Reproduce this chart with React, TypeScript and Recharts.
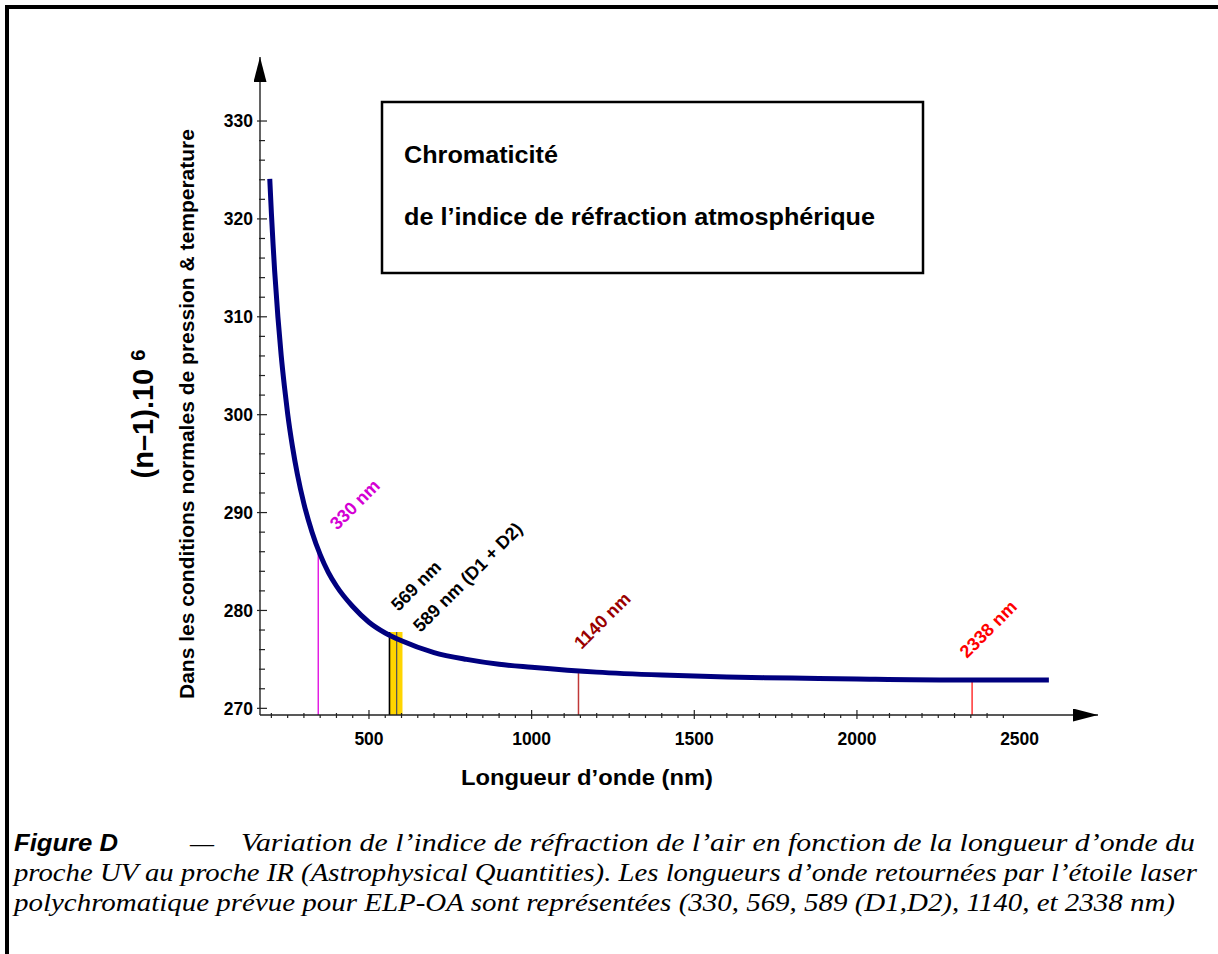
import React from "react";
import { ComposedChart, Line, XAxis, YAxis, ReferenceLine, ReferenceArea } from "recharts";

// (n-1).10^6 of air, per wavelength in nm
const wavelengthNm = [195, 200, 205, 210, 220, 230, 240, 250, 265, 280, 300, 325, 350, 375, 400, 450, 500, 550, 600, 700, 800, 900, 1000, 1200, 1400, 1600, 1800, 2000, 2300, 2590];
const refractivity = [324.1, 320.6, 317.5, 314.7, 310.0, 306.1, 302.9, 300.1, 296.7, 293.9, 290.9, 288.0, 285.7, 283.9, 282.5, 280.4, 278.8, 277.7, 276.9, 275.7, 275.0, 274.5, 274.2, 273.7, 273.4, 273.2, 273.1, 273.0, 272.9, 272.9];

// laser star wavelengths (drawn position in nm) and where each line stops
const markerNames = ["330 nm", "569 nm", "589 nm (D1 + D2)", "1140 nm", "2338 nm"];
const markerNm = [344, 563, 585, 1144, 2354];
const markerTop = [286.0, 277.8, 277.8, 273.6, 273.0];

// yellow sodium band
const bandNm = [563, 603];
const bandTop = 277.8;

const xMinorTicks = [200, 250, 300, 350, 400, 450, 500, 550, 600, 650, 700, 750, 800, 850, 900, 950, 1000, 1050, 1100, 1150, 1200, 1250, 1300, 1350, 1400, 1450, 1500, 1550, 1600, 1650, 1700, 1750, 1800, 1850, 1900, 1950, 2000, 2050, 2100, 2150, 2200, 2250, 2300, 2350, 2400, 2450];
const xLabelTicks = [500, 1000, 1500, 2000, 2500];
const yTicks = [270, 272, 274, 276, 278, 280, 282, 284, 286, 288, 290, 292, 294, 296, 298, 300, 302, 304, 306, 308, 310, 312, 314, 316, 318, 320, 322, 324, 326, 328, 330];
const yLabelTicks = [270, 280, 290, 300, 310, 320, 330];

const X_DOMAIN: [number, number] = [165, 2741];
const Y_DOMAIN: [number, number] = [269.32, 336.54];

const SANS = "'Liberation Sans', Arial, Helvetica, sans-serif";
const SERIF = "'Liberation Serif', 'Times New Roman', serif";

const markerStyle = [
  { stroke: "#E000E0", text: "#D400D4", width: 1.3, dx: 19, dy: -21 },
  { stroke: "#000000", text: "#000000", width: 1.6, dx: 9, dy: -20 },
  { stroke: "#555555", text: "#000000", width: 1.3, dx: 24, dy: 1 },
  { stroke: "#C03838", text: "#9A0000", width: 1.5, dx: 3, dy: -23 },
  { stroke: "#FF3333", text: "#FF0000", width: 1.5, dx: -5, dy: -20 },
];

const curveData = wavelengthNm.map((nm, i) => ({ nm, value: refractivity[i] }));
const xTicks = [...xMinorTicks, 2500];

function XTick(props: any) {
  const { x, y, payload } = props;
  const v = payload.value;
  const major = xLabelTicks.includes(v);
  let y1 = y, y2 = y + 3;
  if (major) { y1 = y - 5; y2 = y + 4; }
  else if (v % 100 === 0) { y1 = y - 2; y2 = y + 3; }
  return (
    <g>
      {xMinorTicks.includes(v) && <line x1={x} x2={x} y1={y1} y2={y2} stroke="#222" strokeWidth={1.2} />}
      {major && (
        <text x={x} y={y + 29.5} textAnchor="middle" fontFamily={SANS} fontWeight="bold" fontSize={17.5} fill="#000">
          {v}
        </text>
      )}
    </g>
  );
}

function YTick(props: any) {
  const { x, y, payload } = props;
  const v = payload.value;
  const major = yLabelTicks.includes(v);
  return (
    <g>
      <line x1={major ? x - 3 : x - 1} x2={major ? x + 7 : x + 5} y1={y} y2={y} stroke="#222" strokeWidth={1.2} />
      {major && (
        <text x={x - 7} y={y + 6.3} textAnchor="end" fontFamily={SANS} fontWeight="bold" fontSize={17.5} fill="#000">
          {v}
        </text>
      )}
    </g>
  );
}

function markerLabel(viewBox: any, i: number) {
  const s = markerStyle[i];
  const lx = viewBox.x + s.dx;
  const ly = viewBox.y + s.dy;
  return (
    <text
      x={lx}
      y={ly}
      transform={`rotate(-45 ${lx} ${ly})`}
      fontFamily={SANS}
      fontWeight="bold"
      fontSize={18}
      fill={s.text}
    >
      {markerNames[i]}
    </text>
  );
}

export default function App() {
  return (
    <div style={{ position: "absolute", left: 0, top: 0, width: 1218, height: 954, background: "#fff" }}>
      <div style={{ position: "absolute", left: 0, top: 0 }}>
        <ComposedChart
          width={1218}
          height={954}
          data={curveData}
          margin={{ top: 57, right: 120, bottom: 238, left: 259 }}
        >
          <defs>
            <marker
              id="axisArrow"
              markerWidth={26}
              markerHeight={13}
              refX={25}
              refY={6.5}
              orient="auto-start-reverse"
              markerUnits="userSpaceOnUse"
            >
              <path d="M0,0 L25,6.5 L0,13 Z" fill="#000" />
            </marker>
          </defs>
          <XAxis
            type="number"
            dataKey="nm"
            domain={X_DOMAIN}
            allowDataOverflow
            ticks={xTicks}
            interval={0}
            height={1}
            tickSize={0}
            tickMargin={0}
            tickLine={false}
            axisLine={{ stroke: "#222", strokeWidth: 1.4, markerEnd: "url(#axisArrow)" }}
            tick={(p: any) => <XTick {...p} />}
          />
          <YAxis
            type="number"
            domain={Y_DOMAIN}
            allowDataOverflow
            ticks={yTicks}
            interval={0}
            width={1}
            tickSize={0}
            tickMargin={0}
            tickLine={false}
            axisLine={{ stroke: "#222", strokeWidth: 1.4, markerStart: "url(#axisArrow)" }}
            tick={(p: any) => <YTick {...p} />}
          />
          <ReferenceArea
            x1={bandNm[0]}
            x2={bandNm[1]}
            y1={Y_DOMAIN[0]}
            y2={bandTop}
            fill="#FFD500"
            fillOpacity={1}
            stroke="none"
            ifOverflow="visible"
          />
          {markerNm.map((nm, i) => (
            <ReferenceLine
              key={markerNames[i]}
              segment={[{ x: nm, y: Y_DOMAIN[0] }, { x: nm, y: markerTop[i] }]}
              stroke={markerStyle[i].stroke}
              strokeWidth={markerStyle[i].width}
              ifOverflow="visible"
              label={(lp: any) => markerLabel(lp.viewBox, i)}
            />
          ))}
          <Line
            type="monotone"
            dataKey="value"
            stroke="#00007F"
            strokeWidth={5}
            dot={false}
            activeDot={false}
            isAnimationActive={false}
          />
        </ComposedChart>
      </div>

      <svg
        width={1218}
        height={954}
        style={{ position: "absolute", left: 0, top: 0, pointerEvents: "none" }}
      >
        {/* page frame, left and top */}
        <line x1={5} x2={1218} y1={7} y2={7} stroke="#000" strokeWidth={4} />
        <line x1={7} x2={7} y1={5} y2={954} stroke="#000" strokeWidth={4} />

        {/* title box */}
        <rect x={382} y={102} width={541} height={171} fill="#fff" stroke="#000" strokeWidth={2.5} />
        <text x={404} y={163} fontFamily={SANS} fontWeight="bold" fontSize={24} textLength={154} lengthAdjust="spacingAndGlyphs">
          Chromaticité
        </text>
        <text x={404} y={225} fontFamily={SANS} fontWeight="bold" fontSize={24} textLength={471} lengthAdjust="spacingAndGlyphs">
          de l’indice de réfraction atmosphérique
        </text>

        {/* axis titles */}
        <text x={587} y={785} textAnchor="middle" fontFamily={SANS} fontWeight="bold" fontSize={22} textLength={252} lengthAdjust="spacingAndGlyphs">
          Longueur d’onde (nm)
        </text>
        <text transform="translate(153 414) rotate(-90)" textAnchor="middle" fontFamily={SANS} fontWeight="bold" fontSize={29}>
          (n–1).10 <tspan fontSize={20} dy={-8}>6</tspan>
        </text>
        <text transform="translate(194 414) rotate(-90)" textAnchor="middle" fontFamily={SANS} fontWeight="bold" fontSize={21} textLength={570} lengthAdjust="spacingAndGlyphs">
          Dans les conditions normales de pression &amp; temperature
        </text>

        {/* caption */}
        <text x={14} y={851} fontFamily={SANS} fontWeight="bold" fontStyle="italic" fontSize={23} textLength={104} lengthAdjust="spacingAndGlyphs">
          Figure D
        </text>
        <text x={190} y={851} fontFamily={SERIF} fontSize={24}>—</text>
        <text x={241} y={851} fontFamily={SERIF} fontStyle="italic" fontSize={25} textLength={954} lengthAdjust="spacingAndGlyphs">
          Variation de l’indice de réfraction de l’air en fonction de la longueur d’onde du
        </text>
        <text x={14} y={881} fontFamily={SERIF} fontStyle="italic" fontSize={25} textLength={1183} lengthAdjust="spacingAndGlyphs">
          proche UV au proche IR (Astrophysical Quantities). Les longueurs d’onde retournées par l’étoile laser
        </text>
        <text x={14} y={911} fontFamily={SERIF} fontStyle="italic" fontSize={25} textLength={1161} lengthAdjust="spacingAndGlyphs">
          polychromatique prévue pour ELP-OA sont représentées (330, 569, 589 (D1,D2), 1140, et 2338 nm)
        </text>
      </svg>
    </div>
  );
}
